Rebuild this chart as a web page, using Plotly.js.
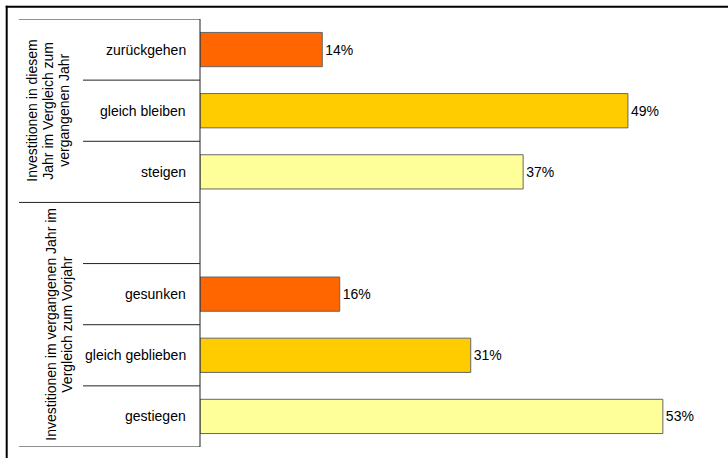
<!DOCTYPE html>
<html>
<head>
<meta charset="utf-8">
<script src="https://cdn.plot.ly/plotly-3.0.1.min.js"></script>
<style>html,body{margin:0;padding:0;background:#fff;}#chart{width:728px;height:458px;}</style>
</head>
<body>
<div id="chart"></div>
<script>
// ---- data ----
const categories = ["zurückgehen", "gleich bleiben", "steigen", " ", "gesunken", "gleich geblieben", "gestiegen"];
const values = [14, 49, 37, null, 16, 31, 53];
const groupUpperLines = ["Investitionen in diesem", "Jahr im Vergleich zum", "vergangenen Jahr"];
const groupLowerLines = ["Investitionen im vergangenen Jahr im", "Vergleich zum Vorjahr"];

// ---- styles ----
const barColors = ["#FF6600", "#FFCC00", "#FFFF99", "#FFFFFF", "#FF6600", "#FFCC00", "#FFFF99"];
const FONT = "Liberation Sans, Arial, Helvetica, sans-serif";
const W = 728, H = 458, L = 200, R = 4, T = 19, B = 11;
const plotW = W - L - R, plotH = H - T - B;
const px2x = p => (p - L) / plotW;          // pixel -> paper x
const py2y = p => 1 - (p - T) / plotH;      // pixel -> paper y

const trace = {
  type: "bar",
  orientation: "h",
  y: categories,
  x: values,
  text: values.map(v => v == null ? "" : v + "%"),
  textposition: "outside",
  textfont: {family: FONT, size: 14, color: "#000"},
  cliponaxis: false,
  constraintext: "none",
  marker: {color: barColors, line: {color: "#666", width: 1}},
  hoverinfo: "none"
};

const annotations = [];
categories.forEach(c => {
  if (c.trim() === "") return;
  annotations.push({
    text: c, xref: "paper", yref: "y", x: 0, y: c,
    xanchor: "right", yanchor: "middle", xshift: -12, showarrow: false,
    font: {family: FONT, size: 14, color: "#000"}
  });
});
const upperX = [32, 48, 64];
groupUpperLines.forEach((t, i) => annotations.push({
  text: t, xref: "paper", yref: "y", x: px2x(upperX[i]), y: 1,
  xanchor: "center", yanchor: "middle", textangle: -90, showarrow: false,
  font: {family: FONT, size: 14, color: "#000"}
}));
const lowerX = [51, 67];
groupLowerLines.forEach((t, i) => annotations.push({
  text: t, xref: "paper", yref: "y", x: px2x(lowerX[i]), y: 4.5,
  xanchor: "center", yanchor: "middle", textangle: -90, showarrow: false,
  font: {family: FONT, size: 14, color: "#000"}
}));

const lineStyle = {color: "#222", width: 1};
const shapes = [];
// outer frame (top and left)
shapes.push({type: "line", xref: "paper", yref: "paper", x0: px2x(5.7), x1: px2x(730), y0: py2y(6.7), y1: py2y(6.7), line: {color: "#000", width: 2}});
shapes.push({type: "line", xref: "paper", yref: "paper", x0: px2x(6.7), x1: px2x(6.7), y0: py2y(5.7), y1: py2y(460), line: {color: "#000", width: 2}});
// group separators (full width)
[-0.5, 2.5, 6.5].forEach(y => shapes.push({type: "line", xref: "paper", yref: "y", x0: px2x(19), x1: 0, y0: y, y1: y, line: lineStyle}));
// category separators
[0.5, 1.5, 3.5, 4.5, 5.5].forEach(y => shapes.push({type: "line", xref: "paper", yref: "y", x0: px2x(83), x1: 0, y0: y, y1: y, line: lineStyle}));
// vertical axis line
shapes.push({type: "line", xref: "paper", yref: "y", x0: 0, x1: 0, y0: -0.5, y1: 6.5, line: lineStyle});

const layout = {
  width: W, height: H,
  margin: {l: L, r: R, t: T, b: B},
  paper_bgcolor: "#fff", plot_bgcolor: "#fff",
  showlegend: false,
  bargap: 0.44,
  font: {family: FONT, size: 14, color: "#000"},
  xaxis: {range: [0, 60], visible: false, fixedrange: true},
  yaxis: {type: "category", categoryorder: "array", categoryarray: categories,
          range: [6.5, -0.5], showticklabels: false, ticks: "", showgrid: false,
          zeroline: false, showline: false, fixedrange: true},
  annotations: annotations,
  shapes: shapes
};

Plotly.newPlot("chart", [trace], layout, {displayModeBar: false, staticPlot: true});
</script>
</body>
</html>
